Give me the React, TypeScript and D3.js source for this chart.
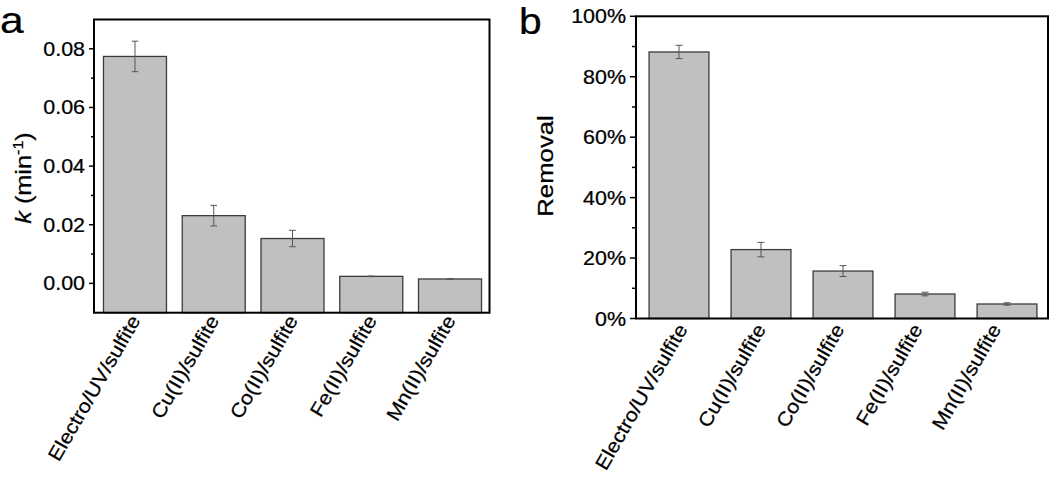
import React from "react";
import * as d3 from "d3";

const categories = ["Electro/UV/sulfite", "Cu(II)/sulfite", "Co(II)/sulfite", "Fe(II)/sulfite", "Mn(II)/sulfite"];
const kValues = [0.0774, 0.0231, 0.0153, 0.0024, 0.0015];
const kErrors = [0.0052, 0.0035, 0.0028, 0.0001, 0.0001];
const kTicks = [0, 0.02, 0.04, 0.06, 0.08];
const kMinorTicks = [0.01, 0.03, 0.05, 0.07];
const removalValues = [0.882, 0.228, 0.157, 0.081, 0.048];
const removalErrors = [0.022, 0.024, 0.018, 0.006, 0.004];
const removalTicks = [0, 0.2, 0.4, 0.6, 0.8, 1.0];
const removalMinorTicks = [0.1, 0.3, 0.5, 0.7, 0.9];

const FONT = "'Liberation Sans', Arial, Helvetica, sans-serif";
const SX = 1.1;

function T({ x, y, rot = 0, sx = SX, size, anchor = "start", dy = "0", children }: any) {
  return (
    <text
      transform={`translate(${x},${y}) rotate(${rot}) scale(${sx},1)`}
      fontSize={size}
      fontFamily={FONT}
      textAnchor={anchor}
      dy={dy}
      fill="#000"
      stroke="#000"
      strokeWidth={0.25}
    >
      {children}
    </text>
  );
}

function Panel({ frame, bandRange, padIn, padOut, labelRange, domain, values, errors, ticks, minor, fmt, majorLen, minorLen, capW, labelOff }: any) {
  const [x0, y0, x1, y1] = frame;
  const x = d3.scaleBand<string>().domain(categories).range(bandRange).paddingInner(padIn).paddingOuter(padOut);
  const y = d3.scaleLinear().domain(domain).range([y1, y0]);
  const bw = x.bandwidth();
  const lx = labelRange
    ? d3.scalePoint<string>().domain(categories).range(labelRange)
    : (c: string) => (x(c) as number) + bw / 2;
  return (
    <g>
      {values.map((v: number, i: number) => {
        const cx = (x(categories[i]) as number) + bw / 2;
        return (
          <g key={i}>
            <rect x={x(categories[i])} y={y(v)} width={bw} height={y(domain[0]) - y(v)} fill="#c0c0c0" stroke="#3c3c3c" strokeWidth={1.3} />
            <g stroke="#555" strokeWidth={1}>
              <line x1={cx} x2={cx} y1={y(v + errors[i])} y2={y(v - errors[i])} />
              <line x1={cx - capW / 2} x2={cx + capW / 2} y1={y(v + errors[i])} y2={y(v + errors[i])} />
              <line x1={cx - capW / 2} x2={cx + capW / 2} y1={y(v - errors[i])} y2={y(v - errors[i])} />
            </g>
          </g>
        );
      })}
      <rect x={x0} y={y0} width={x1 - x0} height={y1 - y0} fill="none" stroke="#000" strokeWidth={2} />
      {ticks.map((t: number, i: number) => (
        <g key={"t" + i}>
          <line x1={x0 - majorLen} x2={x0} y1={y(t)} y2={y(t)} stroke="#000" strokeWidth={1.5} />
          <T x={x0 - majorLen - 4} y={y(t)} size={19.5} anchor="end" dy="0.36em">{fmt(t)}</T>
        </g>
      ))}
      {minor.map((t: number, i: number) => (
        <line key={"m" + i} x1={x0 - minorLen} x2={x0} y1={y(t)} y2={y(t)} stroke="#000" strokeWidth={1.5} />
      ))}
      {categories.map((c, i) => (
        <T key={"c" + i} x={lx(c) as number} y={y1 + labelOff} rot={-60} size={19.5} anchor="end" dy="0.36em">{c}</T>
      ))}
    </g>
  );
}

export default function App() {
  return (
    <svg width={1050} height={485} style={{ position: "absolute", left: 0, top: 0, background: "#fff" }}>
      <rect width={1050} height={485} fill="#fff" />
      <Panel
        frame={[94, 19.5, 489.5, 312.7]}
        bandRange={[95.6, 489.4]}
        padIn={0.2}
        padOut={0.1}
        domain={[-0.01, 0.09]}
        values={kValues}
        errors={kErrors}
        ticks={kTicks}
        minor={kMinorTicks}
        fmt={d3.format(".2f")}
        majorLen={5}
        minorLen={3}
        capW={6.5}
        labelOff={4}
      />
      <Panel
        frame={[636, 16.3, 1048, 318.5]}
        bandRange={[638, 1048]}
        padIn={0.27}
        padOut={0.135}
        labelRange={[682, 995.6]}
        domain={[0, 1]}
        values={removalValues}
        errors={removalErrors}
        ticks={removalTicks}
        minor={removalMinorTicks}
        fmt={d3.format(".0%")}
        majorLen={6}
        minorLen={4}
        capW={7}
        labelOff={7}
      />
      <T x={0} y={33} size={37} sx={1.15}>a</T>
      <T x={519} y={34} size={37} sx={1.1}>b</T>
      <T x={31} y={178} rot={-90} size={22} sx={1.15} anchor="middle">
        <tspan fontStyle="italic">k</tspan>
        <tspan> (min</tspan>
        <tspan fontSize={14} dy="-8">-1</tspan>
        <tspan dy="8">)</tspan>
      </T>
      <T x={553} y={166} rot={-90} size={22} sx={1.17} anchor="middle">Removal</T>
    </svg>
  );
}
